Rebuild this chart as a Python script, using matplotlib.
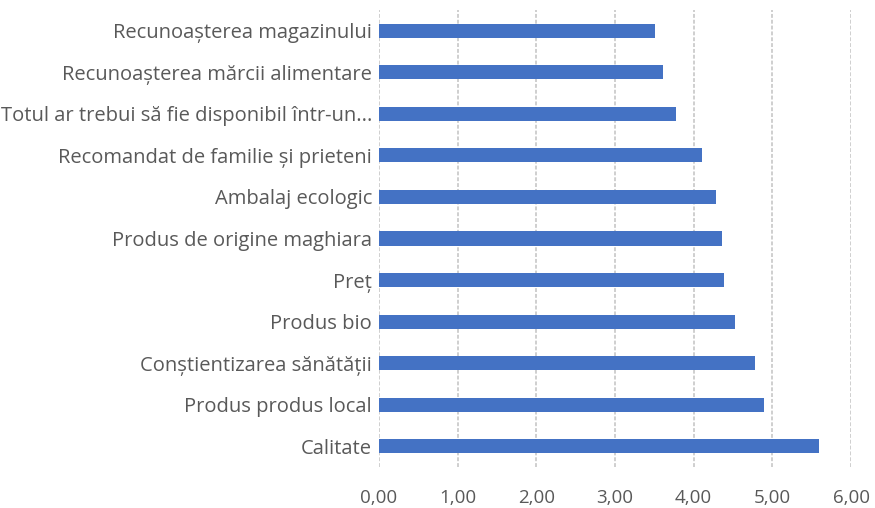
import matplotlib
matplotlib.use("Agg")
import matplotlib.pyplot as plt
from matplotlib.ticker import FuncFormatter

categories = [
    "Calitate",
    "Produs produs local",
    "Conștientizarea sănătății",
    "Produs bio",
    "Preț",
    "Produs de origine maghiara",
    "Ambalaj ecologic",
    "Recomandat de familie și prieteni",
    "Totul ar trebui să fie disponibil într-un...",
    "Recunoașterea mărcii alimentare",
    "Recunoașterea magazinului",
]
values = [5.59, 4.89, 4.78, 4.53, 4.38, 4.36, 4.28, 4.10, 3.77, 3.61, 3.51]
xticks = [0, 1, 2, 3, 4, 5, 6]

plt.rcParams['font.family'] = ['Open Sans', 'DejaVu Sans']

fig = plt.figure(figsize=(8.75, 5.08), dpi=100)
ax = fig.add_axes([379/875, 41/508, (851-379)/875, (467-10)/508])

pos = list(range(len(categories)))
ax.barh(pos, values, height=0.34, color="#4472C4", zorder=3)
ax.set_ylim(-0.5, len(categories) - 0.5)
ax.set_xlim(0, 6)
ax.set_xticks(xticks)
ax.xaxis.set_major_formatter(FuncFormatter(lambda v, p: f"{v:.2f}".replace(".", ",")))
ax.set_yticks(pos)
ax.set_yticklabels(categories)
ax.grid(axis="x", color="#CFCFCF", linewidth=1.4, linestyle=(0, (2, 1)), zorder=0)
for s in ax.spines.values():
    s.set_visible(False)
ax.tick_params(axis="both", length=0, colors="#595959")
ax.tick_params(axis="y", labelsize=14.5, pad=5)
ax.tick_params(axis="x", labelsize=13.5, pad=16)

fig.savefig("out.png", dpi=100)
